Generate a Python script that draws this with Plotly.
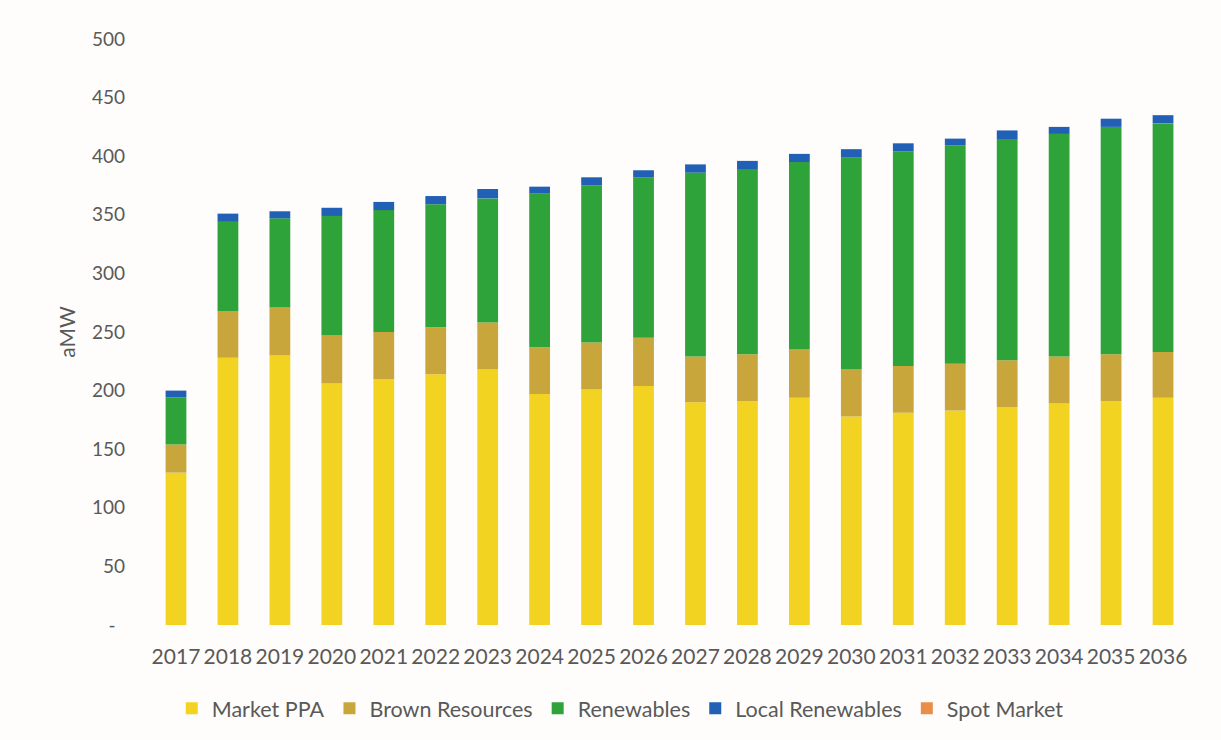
import plotly.graph_objects as go

# Annual resource mix, average megawatts
years = [str(y) for y in range(2017, 2037)]

market_ppa = [130, 228, 230, 206, 210, 214, 218, 197, 201, 204,
              190, 191, 194, 178, 181, 183, 186, 189, 191, 194]
brown_resources = [24, 40, 41, 41, 40, 40, 40, 40, 40, 41,
                   39, 40, 41, 40, 40, 40, 40, 40, 40, 39]
renewables = [40, 76, 76, 102, 104, 105, 106, 131, 134, 137,
              157, 158, 160, 181, 183, 186, 188, 190, 194, 195]
local_renewables = [6, 7, 6, 7, 7, 7, 8, 6, 7, 6,
                    7, 7, 7, 7, 7, 6, 8, 6, 7, 7]
spot_market = [0, 0, 0, 0, 0, -1, 0, -1, -1, 0,
               0, -1, -1, -1, 0, -1, 0, -1, 0, -1]

y_ticks = [0, 50, 100, 150, 200, 250, 300, 350, 400, 450, 500]
y_tick_labels = ["-\u2002"] + [str(v) for v in y_ticks[1:]]

series = [
    ("Market PPA", market_ppa, "#F2D322"),
    ("Brown Resources", brown_resources, "#C9A63C"),
    ("Renewables", renewables, "#2EA33A"),
    ("Local Renewables", local_renewables, "#2160B4"),
    ("Spot Market", spot_market, "#E98E48"),
]

fig = go.Figure()
for name, values, color in series:
    fig.add_trace(go.Bar(
        x=years, y=values, name=name,
        marker=dict(color=color, line=dict(width=0)),
    ))

text_color = "#595959"
font_family = "Lato, Calibri, Arial, sans-serif"

fig.update_layout(
    width=1221, height=740,
    barmode="relative",
    bargap=0.6,
    paper_bgcolor="#FEFDFB",
    plot_bgcolor="#FEFDFB",
    margin=dict(l=150, r=32, t=39, b=115, autoexpand=False),
    font=dict(family=font_family, color=text_color, size=20),
    showlegend=True,
    legend=dict(
        orientation="h",
        xref="container", yref="container",
        x=0.508, xanchor="center",
        y=0.043, yanchor="middle",
        traceorder="normal",
        font=dict(size=21.5, color=text_color),
        itemwidth=30,
        bgcolor="rgba(0,0,0,0)",
    ),
    xaxis=dict(
        type="category",
        showgrid=False, zeroline=False, showline=False,
        ticks="",
        ticklabelstandoff=17,
        tickfont=dict(size=21, color=text_color),
    ),
    yaxis=dict(
        range=[0, 500],
        tickvals=y_ticks, ticktext=y_tick_labels,
        showgrid=False, zeroline=False, showline=False,
        ticks="",
        ticklabelstandoff=24,
        tickfont=dict(size=19, color=text_color),
        title=dict(text="aMW", standoff=10, font=dict(size=21, color=text_color)),
    ),
)

fig.write_html("out.html")
